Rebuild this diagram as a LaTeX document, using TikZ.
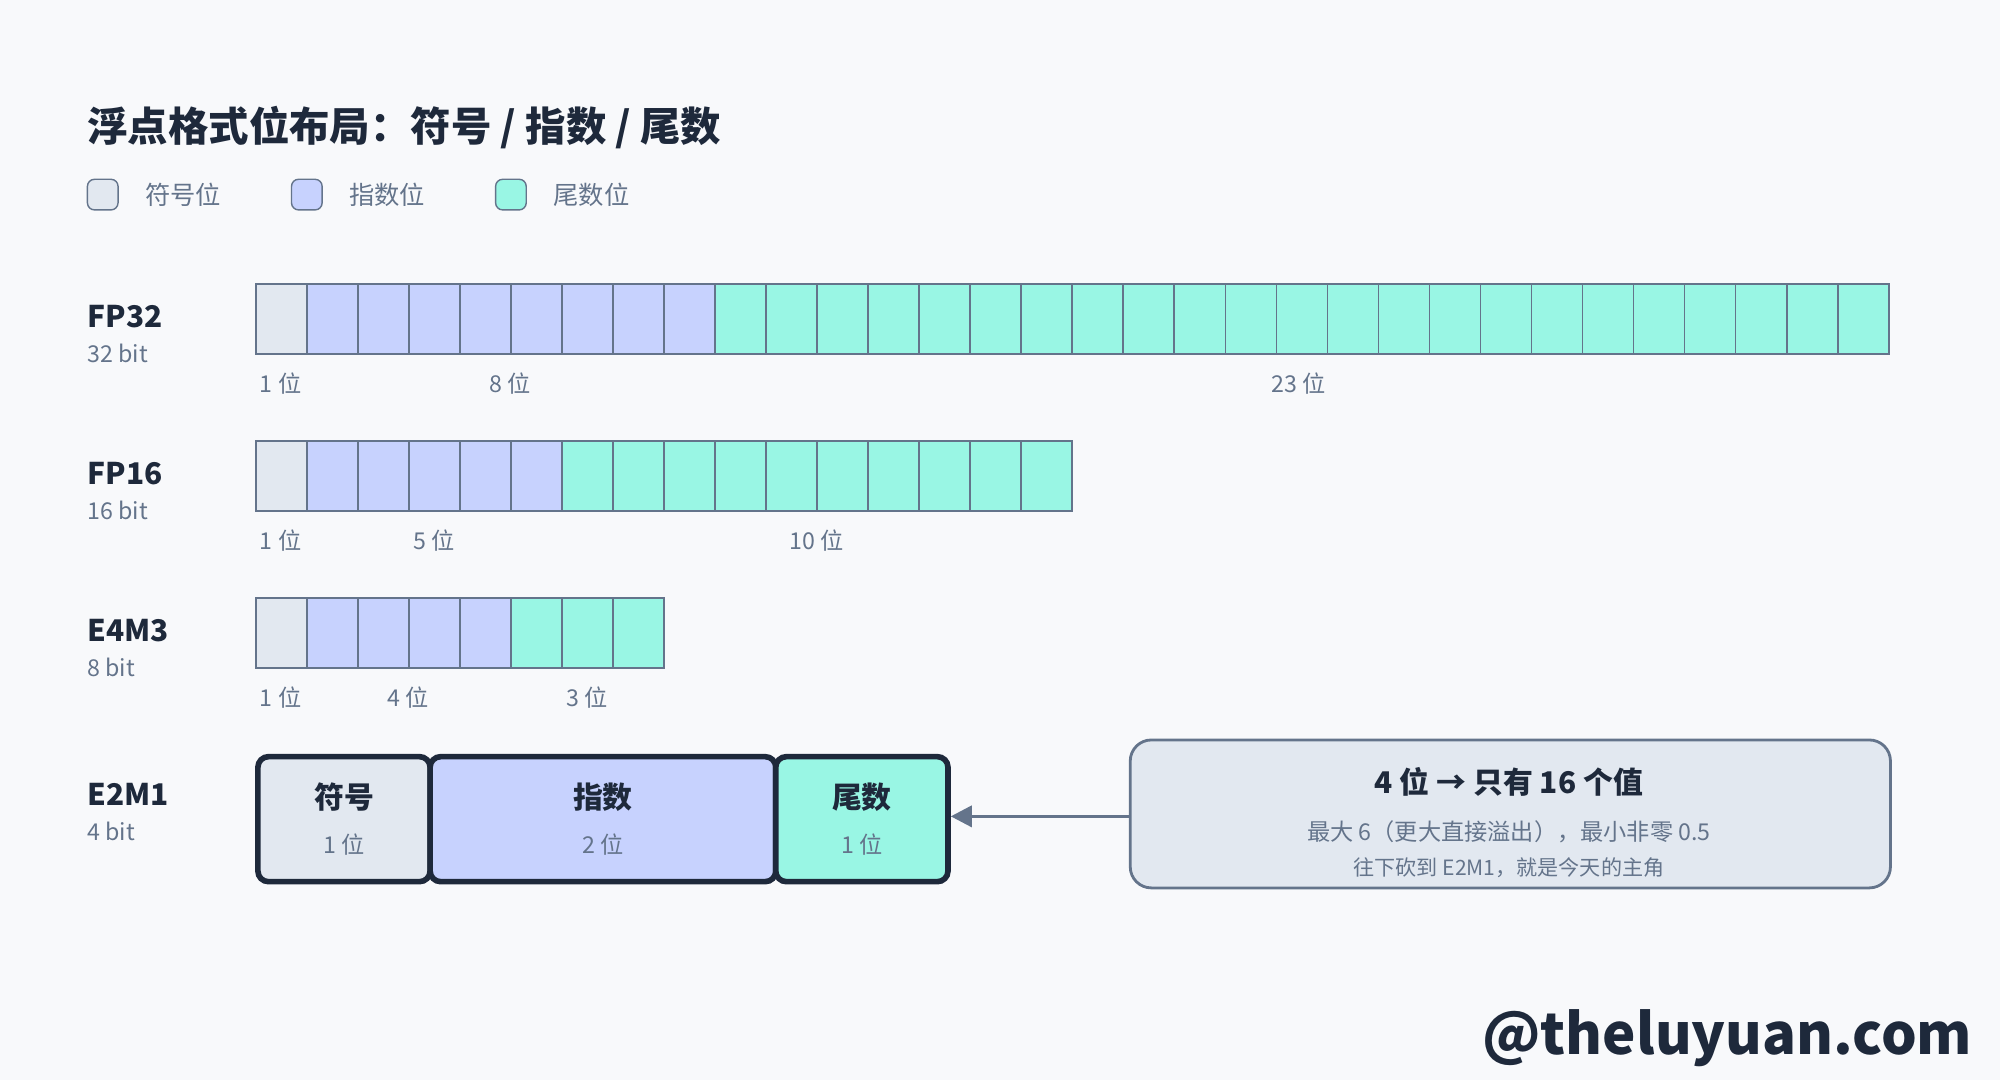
\documentclass[tikz,border=0pt]{standalone}
\usepackage{fontspec}
\setmainfont{Noto Sans CJK SC}
\usetikzlibrary{positioning,arrows.meta}
\definecolor{bgc}{HTML}{F8F9FB}
\definecolor{signc}{HTML}{E2E8F0}
\definecolor{expc}{HTML}{C7D2FE}
\definecolor{manc}{HTML}{99F6E4}
\definecolor{edgec}{HTML}{64748B}
\definecolor{inkc}{HTML}{1E293B}
\definecolor{greyc}{HTML}{64748B}
\tikzset{
  cell/.style={draw=edgec, line width=0.5pt, minimum width=40*0.012755cm, minimum height=55*0.012755cm, inner sep=0pt, anchor=north west},
  big/.style={draw=inkc, line width=1.6pt, rounded corners=3pt, minimum height=98*0.012755cm, inner sep=0pt, anchor=north west},
  fmt/.style={font=\fontsize{8.5}{10}\selectfont\bfseries, text=inkc, anchor=west, inner sep=0pt},
  bits/.style={font=\fontsize{6.6}{8}\selectfont, text=greyc, anchor=west, inner sep=0pt},
  small/.style={font=\fontsize{6.6}{8}\selectfont, text=greyc},
  key/.style={draw=edgec, rounded corners=2pt, minimum size=24*0.012755cm, inner sep=0pt, anchor=north west}
}
\begin{document}
\begin{tikzpicture}[x=0.012755cm, y=-0.012755cm]
\fill[bgc] (0,0) rectangle (1568,847);

% title and legend
\node[anchor=west, inner sep=0pt, font=\fontsize{11.5}{13}\selectfont\bfseries, text=inkc] (title) at (68,100) {浮点格式位布局：符号 / 指数 / 尾数};
\node[key, fill=signc] (k1) at (68,140) {};
\node[small, right=4pt of k1, font=\fontsize{7.2}{9}\selectfont] {符号位};
\node[key, fill=expc] (k2) at (228,140) {};
\node[small, right=4pt of k2, font=\fontsize{7.2}{9}\selectfont] {指数位};
\node[key, fill=manc] (k3) at (388,140) {};
\node[small, right=4pt of k3, font=\fontsize{7.2}{9}\selectfont] {尾数位};

% rows: y top, number of exponent bits, mantissa bits
\foreach \name/\y/\e/\m/\n/\lab/\ex/\mx in {FP32/222/8/23/32/{32 bit}/400/1018, FP16/345/5/10/16/{16 bit}/340/640, E4M3/468/4/3/8/{8 bit}/320/460}{
  \node[fmt] (\name) at (68,\y+26) {\name};
  \node[bits] (\name-b) at (68,\y+55) {\lab};
  \node[cell, fill=signc] (\name-0) at (200,\y) {};
  \foreach \i in {1,...,\e}
    \node[cell, fill=expc] (\name-\i) at (200+40*\i,\y) {};
  \pgfmathtruncatemacro{\s}{\e+1}
  \pgfmathtruncatemacro{\t}{\n-1}
  \foreach \i in {\s,...,\t}
    \node[cell, fill=manc] (\name-\i) at (200+40*\i,\y) {};
  \node[small] at (220,\y+79) {1 位};
  \node[small] at (\ex,\y+79) {\e\ 位};
  \node[small] at (\mx,\y+79) {\m\ 位};
}

% E2M1
\node[fmt] (e2m1) at (68,623) {E2M1};
\node[bits] (e2m1-b) at (68,652) {4 bit};
\node[big, fill=signc, minimum width=135*0.012755cm] (sgn) at (200,591) {};
\node[big, fill=expc, minimum width=271*0.012755cm] (exp) at (335,591) {};
\node[big, fill=manc, minimum width=135*0.012755cm] (man) at (606,591) {};
\foreach \b/\t/\v in {sgn/符号/1, exp/指数/2, man/尾数/1}{
  \node[font=\fontsize{8.5}{10}\selectfont\bfseries, text=inkc] at ([yshift=-34*0.012755cm]\b.north) {\t};
  \node[small] at ([yshift=-71*0.012755cm]\b.north) {\v\ 位};
}

% callout
\node[draw=edgec, fill=signc, rounded corners=6pt, line width=0.8pt, minimum width=596*0.012755cm, minimum height=116*0.012755cm, anchor=north west] (note) at (885,579) {};
\node[font=\fontsize{8.5}{10}\selectfont\bfseries, text=inkc] at (1183,613) {4 位 → 只有 16 个值};
\node[small] at (1183,652) {最大 6（更大直接溢出），最小非零 0.5};
\node[small, font=\fontsize{6}{8}\selectfont] at (1183,680) {往下砍到 E2M1，就是今天的主角};
\draw[-{Triangle[length=6pt,width=6pt]}, draw=edgec, line width=1pt] (note.west |- 0,640) coordinate (nt) -- (man.east |- nt);

% watermark
\node[anchor=east, font=\fontsize{16}{18}\selectfont\bfseries, text=inkc] (wm) at (1556,814) {@theluyuan.com};
\end{tikzpicture}
\end{document}
